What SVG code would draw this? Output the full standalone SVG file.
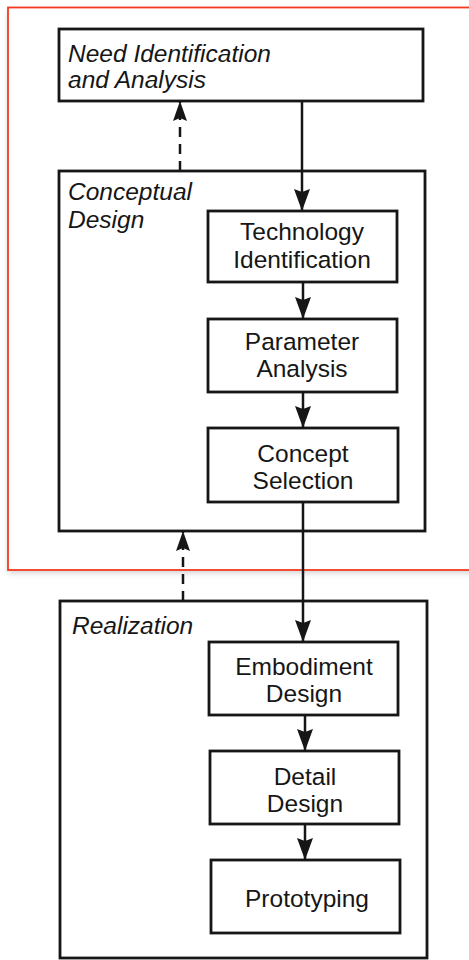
<svg xmlns="http://www.w3.org/2000/svg" width="469" height="960" viewBox="0 0 469 960">
  <defs>
    <style>
      .box { fill: #fff; stroke: #161616; stroke-width: 2.8; }
      .group { fill: none; stroke: #161616; stroke-width: 2.8; }
      .label { font-family: "Liberation Sans", Arial, sans-serif; font-size: 24.5px; fill: #161616; text-anchor: middle; }
      .glabel { font-family: "Liberation Sans", Arial, sans-serif; font-size: 24.5px; font-style: italic; fill: #161616; }
      .flow { fill: none; stroke: #161616; stroke-width: 2.5; }
      .feedback { fill: none; stroke: #161616; stroke-width: 2.5; stroke-dasharray: 10 7; }
    </style>
    <marker id="arrow" markerUnits="userSpaceOnUse" markerWidth="24" markerHeight="18" refX="22" refY="8" orient="auto">
      <path d="M0,0 L22,8 L0,16 L3,8 z" fill="#161616"/>
    </marker>
    <marker id="arrow-small" markerUnits="userSpaceOnUse" markerWidth="22" markerHeight="16" refX="20" refY="7" orient="auto">
      <path d="M0,0 L20,7 L0,14 L3,7 z" fill="#161616"/>
    </marker>
    <filter id="shadow" x="-5%" y="-5%" width="110%" height="110%">
      <feDropShadow dx="0" dy="3" stdDeviation="3" flood-color="#000" flood-opacity="0.18"/>
    </filter>
  </defs>

  <rect width="469" height="960" fill="#fff"/>

  <!-- highlight frame around the first two stages -->
  <rect x="8" y="7.5" width="470" height="562.5" fill="#fff" filter="url(#shadow)"/>
  <rect x="8" y="7.5" width="470" height="562.5" fill="none" stroke="#f43a1f" stroke-width="1.8"/>

  <!-- group containers -->
  <g id="conceptual-design">
    <rect class="group" x="59" y="171" width="366" height="360"/>
    <text class="glabel" x="68" y="200">Conceptual</text>
    <text class="glabel" x="68" y="228">Design</text>
  </g>

  <g id="realization">
    <rect class="group" x="60" y="601" width="367" height="357"/>
    <text class="glabel" x="72" y="634">Realization</text>
  </g>

  <!-- process steps -->
  <g id="need-identification">
    <rect class="box" x="59" y="29" width="364" height="72"/>
    <text class="glabel" x="68" y="62">Need Identification</text>
    <text class="glabel" x="68" y="88">and Analysis</text>
  </g>

  <g id="technology-identification">
    <rect class="box" x="208" y="211" width="189" height="71"/>
    <text class="label" x="302" y="240">Technology</text>
    <text class="label" x="302" y="268">Identification</text>
  </g>

  <g id="parameter-analysis">
    <rect class="box" x="208" y="319" width="189" height="73"/>
    <text class="label" x="302" y="350">Parameter</text>
    <text class="label" x="302" y="377">Analysis</text>
  </g>

  <g id="concept-selection">
    <rect class="box" x="208" y="428" width="190" height="74"/>
    <text class="label" x="303" y="462">Concept</text>
    <text class="label" x="303" y="489">Selection</text>
  </g>

  <g id="embodiment-design">
    <rect class="box" x="209" y="642" width="189" height="73"/>
    <text class="label" x="304" y="675">Embodiment</text>
    <text class="label" x="304" y="702">Design</text>
  </g>

  <g id="detail-design">
    <rect class="box" x="210" y="751" width="189" height="73"/>
    <text class="label" x="305" y="785">Detail</text>
    <text class="label" x="305" y="812">Design</text>
  </g>

  <g id="prototyping">
    <rect class="box" x="211" y="860" width="189" height="73"/>
    <text class="label" x="307" y="907">Prototyping</text>
  </g>

  <!-- connectors -->
  <g id="connectors">
    <line class="flow" x1="302" y1="101" x2="302" y2="211" marker-end="url(#arrow)"/>
    <line class="flow" x1="303" y1="282" x2="303" y2="319" marker-end="url(#arrow)"/>
    <line class="flow" x1="303" y1="392" x2="303" y2="428" marker-end="url(#arrow)"/>
    <line class="flow" x1="303" y1="502" x2="303" y2="642" marker-end="url(#arrow)"/>
    <line class="flow" x1="305" y1="715" x2="305" y2="751" marker-end="url(#arrow)"/>
    <line class="flow" x1="305" y1="824" x2="305" y2="860" marker-end="url(#arrow)"/>
    <line class="feedback" x1="180" y1="171" x2="180" y2="101" marker-end="url(#arrow-small)"/>
    <line class="feedback" x1="183" y1="601" x2="183" y2="531" marker-end="url(#arrow-small)"/>
  </g>
</svg>
